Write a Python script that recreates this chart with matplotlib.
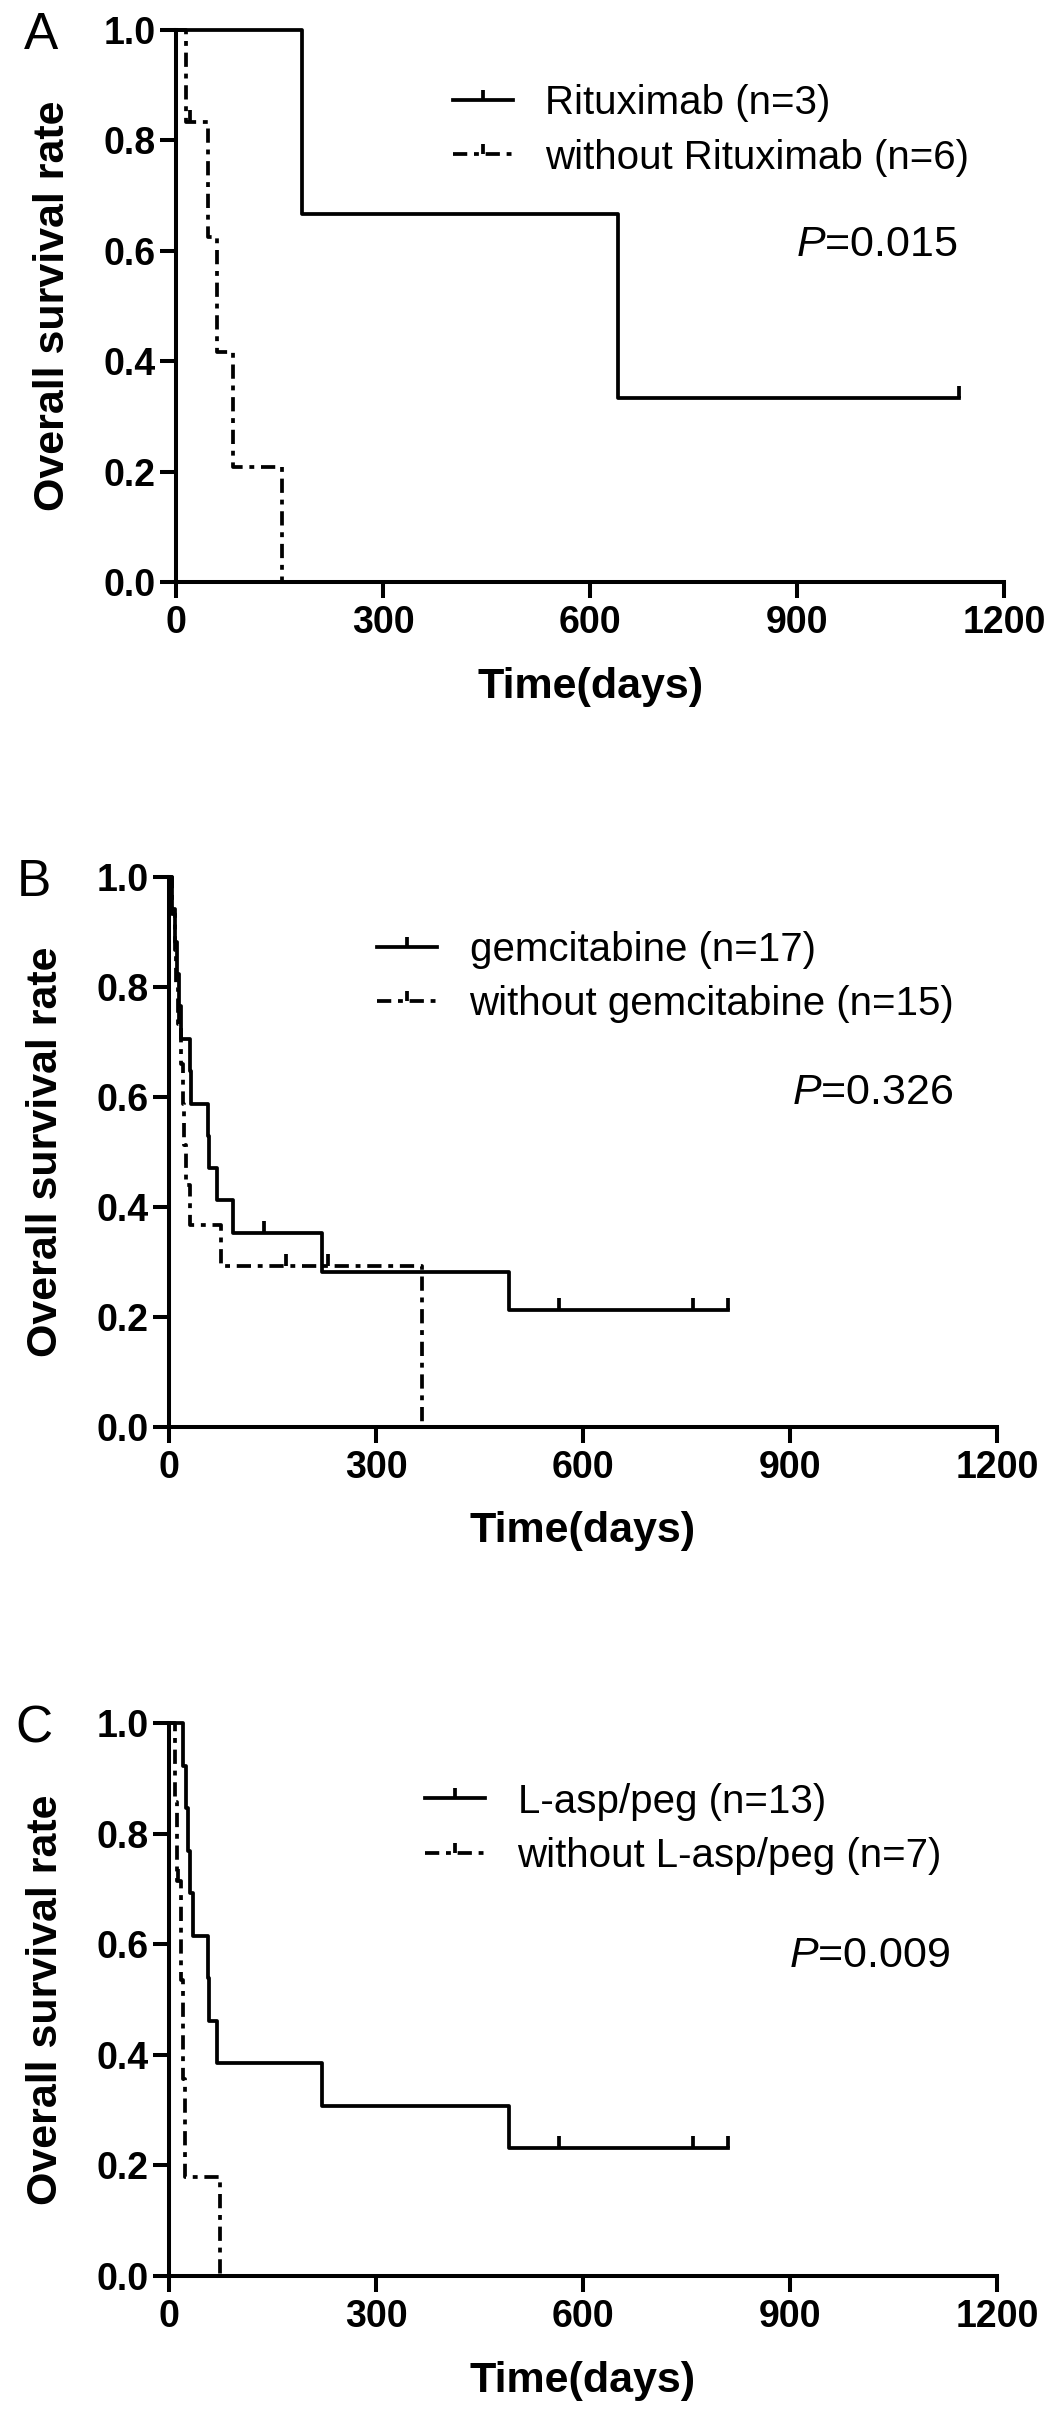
import matplotlib
matplotlib.use("Agg")
import matplotlib.pyplot as plt
from matplotlib.lines import Line2D

plt.rcParams['font.family'] = ['Liberation Sans', 'DejaVu Sans']
plt.rcParams['mathtext.fontset'] = 'custom'
plt.rcParams['mathtext.rm'] = 'Liberation Sans'
plt.rcParams['mathtext.it'] = 'Liberation Sans:italic'

# Kaplan-Meier steps (days, survival after the step)
rit_t = [0, 182, 640, 1135]
rit_s = [1.0, 0.667, 0.333, 0.333]
rit_cens_t = [1135]
rit_cens_s = [0.333]

no_rit_t = [0, 15, 47, 59, 83, 154]
no_rit_s = [1.0, 0.833, 0.625, 0.417, 0.208, 0.0]
no_rit_cens_t = [20]
no_rit_cens_s = [0.833]

gem_t = [0, 5, 8, 11, 14, 17, 30, 32, 57, 58, 70, 93, 221, 492, 810]
gem_s = [1.0, 0.941, 0.882, 0.824, 0.765, 0.706, 0.647, 0.588, 0.529,
         0.471, 0.412, 0.353, 0.282, 0.212, 0.212]
gem_cens_t = [137, 565, 760, 810]
gem_cens_s = [0.353, 0.212, 0.212, 0.212]

no_gem_t = [0, 5, 8, 10, 13, 18, 20, 22, 25, 30, 76, 366]
no_gem_s = [1.0, 0.933, 0.867, 0.8, 0.733, 0.66, 0.587, 0.513, 0.44,
            0.367, 0.293, 0.0]
no_gem_cens_t = [15, 170, 231]
no_gem_cens_s = [0.733, 0.293, 0.293]

asp_t = [0, 20, 24, 27, 31, 35, 56, 58, 70, 221, 492, 810]
asp_s = [1.0, 0.923, 0.846, 0.769, 0.692, 0.615, 0.538, 0.462, 0.385,
         0.308, 0.231, 0.231]
asp_cens_t = [565, 760, 810]
asp_cens_s = [0.231, 0.231, 0.231]

no_asp_t = [0, 8, 11, 17, 20, 23, 74]
no_asp_s = [1.0, 0.857, 0.714, 0.536, 0.357, 0.179, 0.0]
no_asp_cens_t = [13]
no_asp_cens_s = [0.714]

panel_letters = ['A', 'B', 'C']
labels_with = ['Rituximab (n=3)', 'gemcitabine (n=17)', 'L-asp/peg (n=13)']
labels_without = ['without Rituximab (n=6)', 'without gemcitabine (n=15)',
                  'without L-asp/peg (n=7)']
p_values = ['0.015', '0.326', '0.009']

x_ticks = [0, 300, 600, 900, 1200]
y_ticks = [0.0, 0.2, 0.4, 0.6, 0.8, 1.0]

LW = 2.7
DASH = (0, (3.8, 1.8, 1.3, 1.8))
TICK = [(0, 0), (0, 1)]   # censor mark: short stroke going up

panels = [
    ((rit_t, rit_s, rit_cens_t, rit_cens_s),
     (no_rit_t, no_rit_s, no_rit_cens_t, no_rit_cens_s)),
    ((gem_t, gem_s, gem_cens_t, gem_cens_s),
     (no_gem_t, no_gem_s, no_gem_cens_t, no_gem_cens_s)),
    ((asp_t, asp_s, asp_cens_t, asp_cens_s),
     (no_asp_t, no_asp_s, no_asp_cens_t, no_asp_cens_s)),
]

# layout per panel: axes rect, legend anchor, P-value position
axes_rects = [
    [0.1656, 0.7596, 0.779, 0.228],
    [0.1590, 0.4106, 0.779, 0.2272],
    [0.1590, 0.0599, 0.779, 0.2284],
]
legend_anchor = [(0.334, 0.818), (0.251, 0.818), (0.309, 0.809)]
p_pos = [(0.944, 0.61), (0.947, 0.607), (0.943, 0.578)]

fig = plt.figure(figsize=(10.63, 24.21), dpi=100)

for i, (with_grp, without_grp) in enumerate(panels):
    ax = fig.add_axes(axes_rects[i])

    for (t, s, ct, cs), ls in ((with_grp, '-'), (without_grp, DASH)):
        ax.step(t, s, where='post', color='black', lw=LW, ls=ls,
                clip_on=False, zorder=3)
        ax.plot(ct, cs, ls='none', marker=TICK, ms=17, mew=LW,
                color='black', clip_on=False, zorder=3)

    ax.set_xlim(0, 1200)
    ax.set_ylim(0, 1)
    ax.set_xticks(x_ticks)
    ax.set_xticklabels([str(v) for v in x_ticks])
    ax.set_yticks(y_ticks)
    ax.set_yticklabels(['%.1f' % v for v in y_ticks])

    for side in ('top', 'right'):
        ax.spines[side].set_visible(False)
    for side in ('left', 'bottom'):
        ax.spines[side].set_linewidth(2.9)
        ax.spines[side].set_capstyle('projecting')
    ax.tick_params(direction='out', length=11.5, width=2.9,
                   labelsize=27, pad=5)
    for lab in ax.get_xticklabels() + ax.get_yticklabels():
        lab.set_fontweight('bold')
    ax.tick_params(axis='y', pad=3)

    ax.set_xlabel('Time(days)', fontsize=31, fontweight='bold', va='center')
    ax.xaxis.set_label_coords(0.5, -0.19)
    ax.set_ylabel('Overall survival rate', fontsize=31, fontweight='bold',
                  va='center', ha='center')
    ax.yaxis.set_label_coords(-0.148, 0.5)

    ax.text(-0.163, 0.99, panel_letters[i], transform=ax.transAxes,
            fontsize=37, ha='center', va='center')

    handles = [
        Line2D([], [], color='black', lw=LW, ls='-', marker=TICK, ms=14,
               mew=LW),
        Line2D([], [], color='black', lw=LW, ls=DASH, marker=TICK, ms=14,
               mew=LW),
    ]
    ax.legend(handles, [labels_with[i], labels_without[i]],
              loc='center left', bbox_to_anchor=legend_anchor[i],
              frameon=False, fontsize=29, borderpad=0, borderaxespad=0,
              handlelength=1.5, handletextpad=0.8, labelspacing=0.4,
              numpoints=1)

    ax.text(p_pos[i][0], p_pos[i][1], '$P$=' + p_values[i],
            transform=ax.transAxes, fontsize=31, ha='right', va='center')

fig.savefig('out.png', dpi=100)
